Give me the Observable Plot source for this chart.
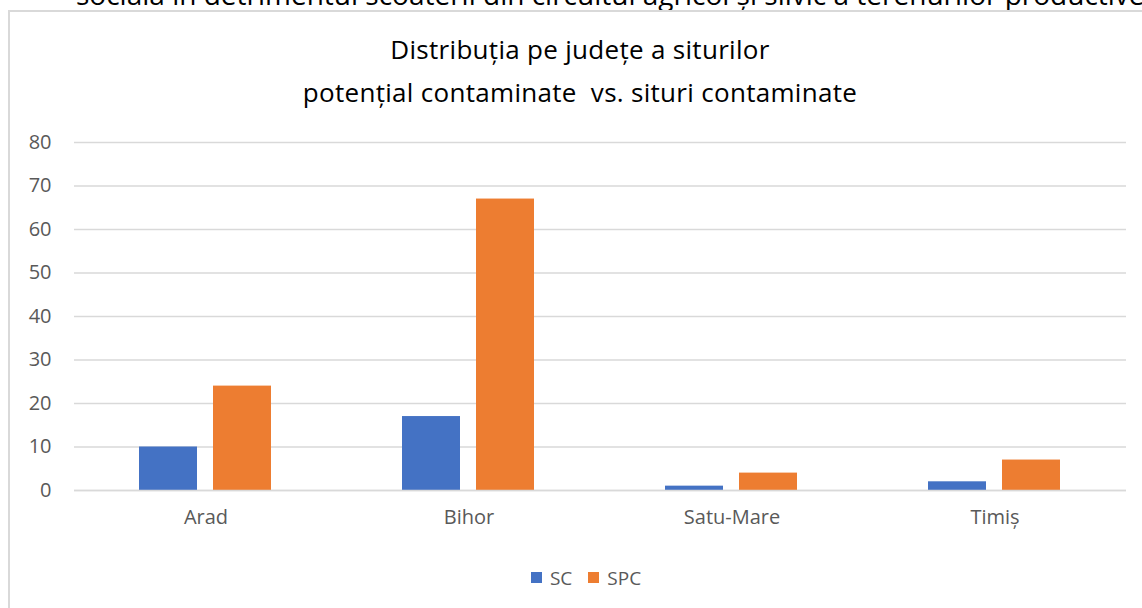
<!DOCTYPE html>
<html>
<head>
<meta charset="utf-8">
<script src="https://cdn.jsdelivr.net/npm/d3@7"></script>
<script src="https://cdn.jsdelivr.net/npm/@observablehq/plot@0.6"></script>
<style>
  html, body { margin: 0; padding: 0; background: #fff; width: 1142px; height: 608px; overflow: hidden; position: relative; font-family: "Open Sans", sans-serif; }
  #topline { position: absolute; left: 76px; top: -22px; font-size: 28px; line-height: 32px; color: #000; white-space: nowrap; font-family: "Open Sans", sans-serif; }
  #frame { position: absolute; left: 8px; top: 10px; width: 1200px; height: 700px; border: 2px solid #d9d9d9; box-sizing: border-box; }
  #title { position: absolute; left: 0; width: 1160px; top: 28px; text-align: center; font-size: 26px; letter-spacing: 0.3px; line-height: 43px; color: #000; font-family: "Open Sans", sans-serif; }
  #chart { position: absolute; left: 0; top: 120px; }
  #chart svg text { font-size: 20px; fill: #595959; font-family: "Open Sans", sans-serif; }
  #legend { position: absolute; left: 0; width: 1172px; top: 563px; text-align: center; font-size: 19px; color: #595959; }
  .item { display: inline-flex; align-items: center; margin: 0 8px; }
  .sw { width: 11px; height: 11px; display: inline-block; margin-right: 8px; }
</style>
</head>
<body>
<div id="topline">socială în detrimentul scoaterii din circuitul agricol și silvic a terenurilor productive</div>
<div id="frame"></div>
<div id="title">Distribuția pe județe a siturilor<br>potențial contaminate&nbsp; vs. situri contaminate</div>
<div id="chart"></div>
<div id="legend"></div>
<script>
const judete = ["Arad", "Bihor", "Satu-Mare", "Timiș"];
const serii = ["SC", "SPC"];
const valoriSC = [10, 17, 1, 2];
const valoriSPC = [24, 67, 4, 7];
const culori = ["#4472C4", "#ED7D31"];
const yTicks = [0, 10, 20, 30, 40, 50, 60, 70, 80];

const data = [];
judete.forEach((j, i) => {
  data.push({judet: j, serie: "SC", valoare: valoriSC[i]});
  data.push({judet: j, serie: "SPC", valoare: valoriSPC[i]});
});

const chart = Plot.plot({
  width: 1142,
  height: 420,
  marginLeft: 73,
  marginRight: 16,
  marginTop: 22,
  marginBottom: 50,
  style: { fontFamily: "'Open Sans', sans-serif", fontSize: "20px", color: "#595959", background: "transparent" },
  fx: { domain: judete, padding: 0, label: null },
  x: { domain: serii, paddingInner: 0.213, paddingOuter: 0.86, axis: null },
  y: { domain: [0, 80], label: null },
  color: { domain: serii, range: culori },
  marks: [
    Plot.ruleY(yTicks, { stroke: "#d9d9d9", strokeWidth: 1.5 }),
    Plot.axisY(yTicks, { tickSize: 0, tickPadding: 23, fontSize: 20, fill: "#595959", label: null }),
    Plot.axisFx({ anchor: "bottom", tickSize: 0, tickPadding: 19, fontSize: 20, fill: "#595959", label: null }),
    Plot.barY(data, { fx: "judet", x: "serie", y: "valoare", fill: "serie" }),
    Plot.ruleY([0], { stroke: "#d9d9d9", strokeWidth: 1.5 })
  ]
});
document.getElementById("chart").appendChild(chart);

const legend = document.getElementById("legend");
serii.forEach((s, i) => {
  const it = document.createElement("span");
  it.className = "item";
  it.innerHTML = `<span class="sw" style="background:${culori[i]}"></span>${s}`;
  legend.appendChild(it);
});
</script>
</body>
</html>
